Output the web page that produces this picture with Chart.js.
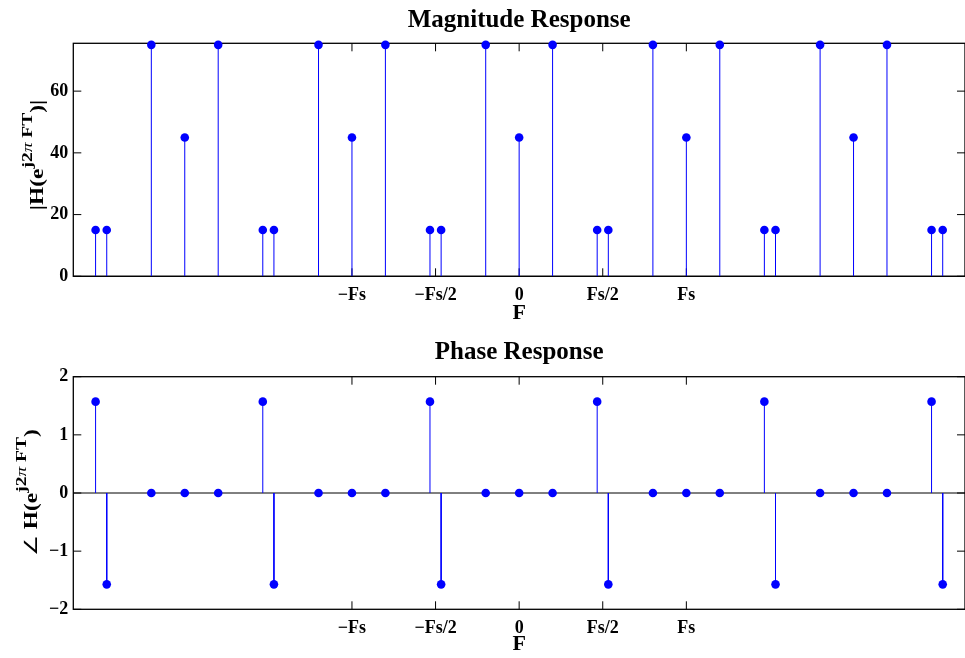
<!DOCTYPE html>
<html>
<head>
<meta charset="utf-8">
<script src="https://cdn.jsdelivr.net/npm/chart.js@4.4.1/dist/chart.umd.min.js"></script>
<style>
  body { margin: 0; background: #fff; }
  canvas { display: block; }
</style>
</head>
<body>
<canvas id="magnitude" width="965" height="329"></canvas>
<canvas id="phase" width="965" height="329"></canvas>
<script>
'use strict';

// non-zero DFT bins, Fs = 15 bins, shown over three periods
const bins = [-38, -37, -33, -30, -27, -23, -22, -18, -15, -12, -8, -7, -3, 0,
    3, 7, 8, 12, 15, 18, 22, 23, 27, 30, 33, 37, 38];
const magnitude = [15, 15, 75, 45, 75, 15, 15, 75, 45, 75, 15, 15, 75, 45,
    75, 15, 15, 75, 45, 75, 15, 15, 75, 45, 75, 15, 15];
const phase = [1.5708, -1.5708, 0, 0, 0, 1.5708, -1.5708, 0, 0, 0, 1.5708,
    -1.5708, 0, 0, 0, 1.5708, -1.5708, 0, 0, 0, 1.5708, -1.5708, 0, 0, 0,
    1.5708, -1.5708];
const freqTicks = [-15, -7.5, 0, 7.5, 15];
const freqLabels = ['\u2212Fs', '\u2212Fs/2', '0', 'Fs/2', 'Fs'];
const magTicks = [0, 20, 40, 60];
const phaseTicks = [-2, -1, 0, 1, 2];

const BLUE = '#0000ff';
const SERIF = "'Liberation Serif', 'Times New Roman', serif";

// stems: (x,0) -> (x,v), broken by a null point
function stemPoints(xs, ys) {
    return xs.flatMap((x, i) => [{x: x, y: 0}, {x: x, y: ys[i]}, {x: x, y: null}]);
}

function fixTicks(values) {
    return function (scale) {
        scale.ticks = values.map(v => ({value: v}));
    };
}

const boxPlugin = {
    id: 'box',
    beforeDatasetsDraw(chart) {
        const ctx = chart.ctx;
        const a = chart.chartArea;
        const x = chart.scales.x, y = chart.scales.y;
        ctx.save();
        ctx.strokeStyle = '#000';
        ctx.lineWidth = 1.3;
        ctx.strokeRect(a.left, a.top, a.width, a.height);
        ctx.lineWidth = 1;
        ctx.beginPath();
        x.ticks.forEach(t => {
            const px = x.getPixelForValue(t.value);
            ctx.moveTo(px, a.bottom); ctx.lineTo(px, a.bottom - 8);
            ctx.moveTo(px, a.top); ctx.lineTo(px, a.top + 8);
        });
        y.ticks.forEach(t => {
            const py = y.getPixelForValue(t.value);
            ctx.moveTo(a.left, py); ctx.lineTo(a.left + 8, py);
            ctx.moveTo(a.right, py); ctx.lineTo(a.right - 8, py);
        });
        const y0 = y.getPixelForValue(0);
        ctx.moveTo(a.left, y0); ctx.lineTo(a.right, y0);
        ctx.stroke();
        ctx.restore();
    },
};

const textPlugin = {
    id: 'axesText',
    afterDraw(chart, args, opts) {
        const ctx = chart.ctx;
        const a = chart.chartArea;
        ctx.save();
        ctx.fillStyle = '#000';
        ctx.font = 'bold 25px ' + SERIF;
        ctx.textAlign = 'center';
        ctx.textBaseline = 'alphabetic';
        ctx.fillText(opts.title, (a.left + a.right) / 2, opts.titleY);

        // rotated y label with superscript
        ctx.textAlign = 'left';
        ctx.translate(opts.labelX, opts.labelY);
        ctx.rotate(-Math.PI / 2);
        ctx.scale(1.3, 1);
        let total = 0;
        opts.parts.forEach(p => {
            ctx.font = p.font;
            total += ctx.measureText(p.text).width;
        });
        let cx = -total / 2;
        opts.parts.forEach(p => {
            ctx.font = p.font;
            ctx.fillText(p.text, cx, p.sup ? -11 : 0);
            cx += ctx.measureText(p.text).width;
        });
        ctx.restore();
    },
};

const MAIN = 'bold 18px ' + SERIF;
const SUP = 'bold 15px ' + SERIF;
const SUPI = 'italic 15px ' + SERIF;
const supParts = [
    {text: 'j2', font: SUP, sup: true},
    {text: '\u03c0', font: SUPI, sup: true},
    {text: ' FT', font: SUP, sup: true},
];

function makeChart(id, values, yMin, yMax, yTicks, cfg) {
    return new Chart(document.getElementById(id), {
        type: 'line',
        data: {
            datasets: [
                {
                    type: 'scatter',
                    data: bins.map((b, i) => ({x: b, y: values[i]})),
                    backgroundColor: BLUE,
                    borderWidth: 0,
                    pointRadius: 4.3,
                    clip: false,
                    order: 0,
                },
                {
                    data: stemPoints(bins, values),
                    borderColor: BLUE,
                    borderWidth: 1,
                    pointRadius: 0,
                    spanGaps: false,
                    order: 1,
                },
            ],
        },
        options: {
            responsive: false,
            animation: false,
            events: [],
            layout: {
                autoPadding: false,
                padding: {top: cfg.top, left: 0, right: 0, bottom: 0},
            },
            plugins: {
                legend: {display: false},
                tooltip: {enabled: false},
                axesText: cfg.text,
            },
            scales: {
                x: {
                    type: 'linear',
                    min: -40,
                    max: 40,
                    grid: {display: false, drawTicks: false},
                    border: {display: false},
                    afterBuildTicks: fixTicks(freqTicks),
                    afterFit(scale) { scale.height = cfg.xHeight; },
                    ticks: {
                        color: '#000',
                        padding: 8,
                        maxRotation: 0,
                        autoSkip: false,
                        font: {family: SERIF, size: 18, weight: 'bold'},
                        callback: v => freqLabels[freqTicks.indexOf(v)],
                    },
                    title: {
                        display: true,
                        text: 'F',
                        color: '#000',
                        padding: {top: 0, bottom: cfg.fPad},
                        font: {family: SERIF, size: 22, weight: 'bold'},
                    },
                },
                y: {
                    min: yMin,
                    max: yMax,
                    grid: {display: false, drawTicks: false},
                    border: {display: false},
                    afterBuildTicks: fixTicks(yTicks),
                    afterFit(scale) { scale.width = 73.3; },
                    ticks: {
                        color: '#000',
                        padding: 5,
                        font: {family: SERIF, size: 18, weight: 'bold'},
                        callback: v => (v < 0 ? '\u2212' + Math.abs(v) : String(v)),
                    },
                },
            },
        },
        plugins: [boxPlugin, textPlugin],
    });
}

makeChart('magnitude', magnitude, 0, 75.5, magTicks, {
    top: 43.3,
    xHeight: 52.7,
    fPad: 2,
    text: {
        title: 'Magnitude Response',
        titleY: 27,
        labelX: 43,
        labelY: 155,
        parts: [{text: '|H(e', font: MAIN}].concat(supParts, [{text: ')|', font: MAIN}]),
    },
});

makeChart('phase', phase, -2, 2, phaseTicks, {
    top: 47.7,
    xHeight: 48.7,
    fPad: 0,
    text: {
        title: 'Phase Response',
        titleY: 30,
        labelX: 37,
        labelY: 163.5,
        parts: [{text: '\u2220 ', font: '18px ' + SERIF}, {text: 'H(e', font: MAIN}]
            .concat(supParts, [{text: ')', font: MAIN}]),
    },
});
</script>
</body>
</html>
